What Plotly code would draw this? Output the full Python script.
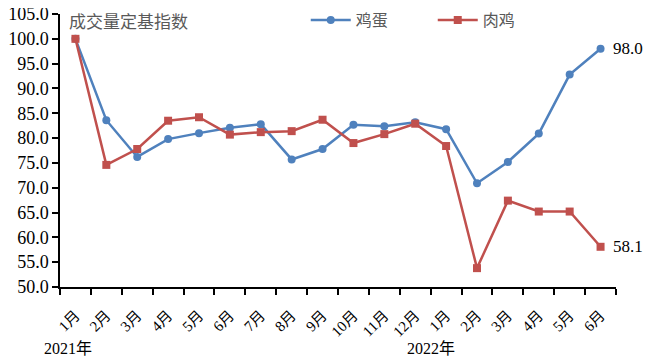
import plotly.graph_objects as go

months = ["1月", "2月", "3月", "4月", "5月", "6月", "7月", "8月", "9月", "10月", "11月", "12月",
          "1月", "2月", "3月", "4月", "5月", "6月"]
egg = [100.0, 83.6, 76.2, 79.8, 81.0, 82.1, 82.8, 75.7, 77.8, 82.7, 82.4, 83.2,
       81.8, 70.9, 75.2, 80.9, 92.8, 98.0]
broiler = [100.0, 74.6, 77.8, 83.5, 84.2, 80.7, 81.2, 81.4, 83.7, 79.0, 80.8, 82.9,
           78.4, 53.8, 67.4, 65.2, 65.2, 58.1]
years = ["2021年", "2022年"]
year_pos = [-0.25, 11.5]
title_text = "成交量定基指数"

x = list(range(len(months)))
serif = "Liberation Serif, Times New Roman, serif"
cjk = "Liberation Serif, Noto Sans CJK SC, serif"

fig = go.Figure()
fig.add_trace(go.Scatter(x=x, y=egg, name="鸡蛋", mode="lines+markers",
                         line=dict(color="#4F81BD", width=2.5),
                         marker=dict(symbol="circle", size=8, color="#4F81BD")))
fig.add_trace(go.Scatter(x=x, y=broiler, name="肉鸡", mode="lines+markers",
                         line=dict(color="#C0504D", width=2.5),
                         marker=dict(symbol="square", size=8, color="#C0504D")))

for series in (egg, broiler):
    fig.add_annotation(x=x[-1], y=series[-1], text=f"{series[-1]:.1f}", showarrow=False,
                       xanchor="left", xshift=10, font=dict(family=serif, size=17, color="black"))

for yr, xp in zip(years, year_pos):
    fig.add_annotation(x=xp, y=0, yref="paper", yshift=-61, text=yr, showarrow=False,
                       xanchor="center", yanchor="middle",
                       font=dict(family=cjk, size=16, color="black"))

fig.add_annotation(x=0.012, y=0.975, xref="paper", yref="paper", text=title_text, showarrow=False,
                   xanchor="left", yanchor="middle",
                   font=dict(family="Noto Sans CJK SC", size=17, color="#595959"))

# the page adds an 8px body margin; figure is sized to fill the remaining window
fig.update_layout(
    width=650, height=355,
    margin=dict(l=52, r=42, t=6, b=76, autoexpand=False),
    plot_bgcolor="white", paper_bgcolor="white",
    showlegend=True,
    legend=dict(orientation="h", x=0.442, y=0.978, xanchor="left", yanchor="middle",
                font=dict(family="Noto Sans CJK SC", size=16, color="#595959"),
                bgcolor="rgba(0,0,0,0)", itemwidth=40, tracegroupgap=0,
                entrywidth=72, entrywidthmode="pixels"),
    xaxis=dict(range=[-0.5, 17.5], tickmode="array", tickvals=x, ticktext=months,
               tickangle=-45, ticks="", showgrid=False, zeroline=False, automargin=False,
               showline=True, linecolor="black", linewidth=1.5, ticklabelstandoff=12,
               tickfont=dict(family=cjk, size=15, color="black"),
               minor=dict(tickmode="linear", tick0=-0.5, dtick=1, ticks="outside",
                          ticklen=6, tickwidth=1.5, tickcolor="black", showgrid=False)),
    yaxis=dict(range=[50, 105], dtick=5, tickformat=".1f", ticks="outside", ticklen=6,
               tickwidth=1.5, tickcolor="black", showgrid=False, zeroline=False, automargin=False,
               showline=True, linecolor="black", linewidth=1.5, ticklabeloverflow="allow",
               tickfont=dict(family=serif, size=18, color="black")),
)

fig.write_html("out.html")
